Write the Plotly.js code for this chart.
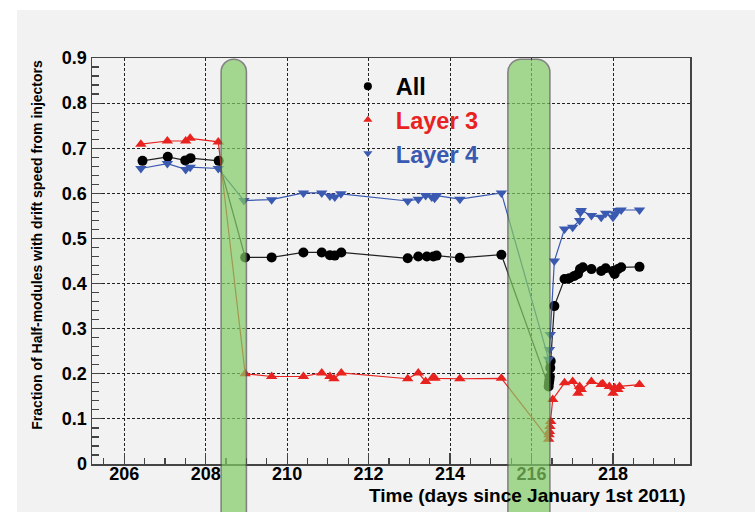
<!DOCTYPE html>
<html>
<head>
<meta charset="utf-8">
<script src="https://cdn.plot.ly/plotly-3.0.1.min.js"></script>
<style>html,body{margin:0;padding:0;background:#ffffff;} #chart{width:755px;height:512px;}</style>
</head>
<body>
<div id="chart"></div>
<script>
// ---- data (days since January 1st 2011) ----
var allDays = [206.45, 207.07, 207.50, 207.63, 208.32, 208.97, 209.62, 210.40, 210.85, 211.05, 211.17, 211.33, 212.96, 213.22, 213.43, 213.59, 213.67, 214.24, 215.26, 216.42, 216.43, 216.44, 216.45, 216.46, 216.47, 216.56, 216.81, 216.93, 217.05, 217.14, 217.19, 217.26, 217.47, 217.71, 217.82, 218.00, 218.04, 218.12, 218.20, 218.65];
var allFrac = [0.672, 0.681, 0.673, 0.678, 0.672, 0.458, 0.458, 0.469, 0.469, 0.463, 0.462, 0.469, 0.456, 0.460, 0.460, 0.460, 0.462, 0.457, 0.464, 0.172, 0.180, 0.187, 0.194, 0.213, 0.228, 0.350, 0.410, 0.412, 0.417, 0.421, 0.432, 0.436, 0.432, 0.428, 0.434, 0.428, 0.421, 0.432, 0.436, 0.437];

var l3Days = [206.41, 207.06, 207.51, 207.62, 208.31, 208.97, 209.62, 210.40, 210.85, 211.05, 211.15, 211.33, 212.96, 213.22, 213.40, 213.57, 213.63, 214.24, 215.26, 216.42, 216.43, 216.44, 216.45, 216.47, 216.52, 216.81, 217.01, 217.14, 217.18, 217.22, 217.47, 217.71, 217.75, 217.91, 218.00, 218.04, 218.12, 218.16, 218.65];
var l3Frac = [0.709, 0.716, 0.716, 0.722, 0.714, 0.200, 0.194, 0.194, 0.202, 0.194, 0.189, 0.202, 0.189, 0.202, 0.183, 0.191, 0.190, 0.189, 0.190, 0.055, 0.065, 0.072, 0.083, 0.094, 0.143, 0.180, 0.183, 0.157, 0.172, 0.165, 0.183, 0.176, 0.178, 0.172, 0.157, 0.169, 0.165, 0.172, 0.176];

var l4Days = [206.41, 207.06, 207.51, 207.62, 208.31, 208.94, 209.62, 210.40, 210.85, 211.05, 211.17, 211.32, 212.96, 213.22, 213.40, 213.55, 213.62, 213.67, 214.24, 215.26, 216.42, 216.44, 216.46, 216.56, 216.81, 217.01, 217.18, 217.20, 217.22, 217.47, 217.71, 217.82, 218.00, 218.04, 218.12, 218.20, 218.65];
var l4Frac = [0.655, 0.666, 0.653, 0.658, 0.655, 0.584, 0.586, 0.601, 0.601, 0.594, 0.592, 0.599, 0.583, 0.587, 0.595, 0.592, 0.589, 0.595, 0.587, 0.601, 0.232, 0.254, 0.287, 0.450, 0.521, 0.525, 0.540, 0.558, 0.562, 0.551, 0.547, 0.556, 0.547, 0.555, 0.562, 0.563, 0.563];

// shaded periods (days)
var bandStart = [208.38, 215.42];
var bandEnd   = [209.00, 216.45];

var seriesNames = ['All', 'Layer 3', 'Layer 4'];
var xTickVals = [206, 208, 210, 212, 214, 216, 218];

// ---- styling ----
var FONT = 'Liberation Sans, Arial, Helvetica, sans-serif';
var cBlack = '#000000', cRed = '#e8231f', cBlue = '#3a59b0';

function series(x, y, name, color, symbol, size, lcolor) {
  return {
    x: x, y: y, name: name, type: 'scatter', mode: 'lines+markers',
    showlegend: false,
    line: {color: lcolor, width: 1.2},
    marker: {color: color, symbol: symbol, size: size}
  };
}
function legendEntry(name, color, symbol, size, group) {
  return {
    x: [null], y: [null], type: 'scatter', mode: 'markers',
    name: '<span style="color:' + color + '">' + name + '</span>',
    legendgroup: group,
    marker: {color: color, symbol: symbol, size: size}
  };
}

var traces = [
  series(allDays, allFrac, seriesNames[0], cBlack, 'circle', 10, '#222222'),
  series(l3Days, l3Frac, seriesNames[1], cRed, 'triangle-up', 10, cRed),
  series(l4Days, l4Frac, seriesNames[2], cBlue, 'triangle-down', 10, cBlue),
  legendEntry(seriesNames[0], cBlack, 'circle', 8, 'g1'),
  legendEntry(seriesNames[1], cRed, 'triangle-up', 8, 'g2'),
  legendEntry(seriesNames[2], cBlue, 'triangle-down', 8, 'g3')
];

// plot-area size in pixels, used to make the rounded band tops
var M = {l: 92, r: 65, t: 58, b: 48};
var plotW = 755 - M.l - M.r, plotH = 512 - M.t - M.b;
var xRange = [205.21, 219.89];
var pxPerDay = plotW / (xRange[1] - xRange[0]);

function bandPath(x0, x1) {
  var widthPx = (x1 - x0) * pxPerDay;
  var rPx = Math.min(13, widthPx / 2);
  var rx = rPx / pxPerDay, ry = rPx / plotH;
  var yt = 0.997, yb = -0.3, k = 0.448;
  return 'M' + x0 + ',' + yb +
    ' L' + x0 + ',' + (yt - ry) +
    ' C' + x0 + ',' + (yt - ry * k) + ' ' + (x0 + rx * k) + ',' + yt + ' ' + (x0 + rx) + ',' + yt +
    ' L' + (x1 - rx) + ',' + yt +
    ' C' + (x1 - rx * k) + ',' + yt + ' ' + x1 + ',' + (yt - ry * k) + ' ' + x1 + ',' + (yt - ry) +
    ' L' + x1 + ',' + yb + ' Z';
}

var shapes = [{
  type: 'rect', xref: 'paper', yref: 'paper',
  x0: (17 - M.l) / plotW, x1: (755 - M.l) / plotW,
  y0: -M.b / plotH, y1: (512 - M.b - 10) / plotH,
  fillcolor: '#f2f2f2', line: {width: 0}, layer: 'below'
}];
for (var i = 0; i < bandStart.length; i++) {
  shapes.push({
    type: 'path', xref: 'x', yref: 'paper', layer: 'above',
    path: bandPath(bandStart[i], bandEnd[i]),
    fillcolor: 'rgb(130,203,100)', opacity: 0.7,
    line: {color: '#555555', width: 1.6}
  });
}

var layout = {
  width: 755, height: 512,
  margin: M,
  paper_bgcolor: '#ffffff',
  plot_bgcolor: 'rgba(0,0,0,0)',
  font: {family: FONT, size: 18, color: '#000', weight: 'bold'},
  showlegend: true,
  legend: {
    x: 0.4145, y: 0.984, xanchor: 'left', yanchor: 'top',
    bgcolor: 'rgba(0,0,0,0)', borderwidth: 0,
    font: {family: FONT, size: 23.5, weight: 'bold'},
    traceorder: 'grouped', tracegroupgap: 0, itemwidth: 46
  },
  xaxis: {
    range: xRange, tickvals: xTickVals, ticks: 'inside', ticklen: 11, tickwidth: 1.2,
    tickcolor: '#444', showline: true, linecolor: '#444', linewidth: 1.5, mirror: true,
    showgrid: true, gridcolor: '#222', gridwidth: 1, griddash: '3px,2px',
    zeroline: false, ticklabelstandoff: -7,
    tickfont: {family: FONT, size: 18, weight: 'bold', color: '#000'},
    minor: {dtick: 0.5, tick0: 206, ticks: 'inside', ticklen: 6, tickcolor: '#444', showgrid: false}
  },
  yaxis: {
    range: [0, 0.9], dtick: 0.1, tick0: 0, ticks: 'inside', ticklen: 10, tickwidth: 1.2,
    tickcolor: '#444', showline: true, linecolor: '#444', linewidth: 1.5, mirror: true,
    showgrid: true, gridcolor: '#222', gridwidth: 1, griddash: '3px,2px',
    zeroline: false,
    tickfont: {family: FONT, size: 18, weight: 'bold', color: '#000'},
    minor: {dtick: 0.02, ticks: 'inside', ticklen: 7, tickcolor: '#444', showgrid: false}
  },
  shapes: shapes,
  annotations: [
    {text: 'Time (days since January 1st 2011)', xref: 'paper', yref: 'paper',
     x: 0.9967, y: -0.078, xanchor: 'right', yanchor: 'middle', showarrow: false,
     font: {family: FONT, size: 19, weight: 'bold', color: '#000'}},
    {text: 'Fraction of Half-modules with drift speed from injectors', xref: 'paper', yref: 'paper',
     x: -0.0925, y: 1.0, xanchor: 'center', yanchor: 'top', textangle: -90, showarrow: false,
     font: {family: FONT, size: 14, weight: 'bold', color: '#000'}}
  ]
};

Plotly.newPlot('chart', traces, layout, {displayModeBar: false, staticPlot: true});
</script>
</body>
</html>
